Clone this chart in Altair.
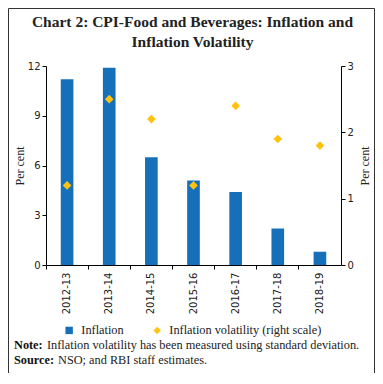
import altair as alt
import pandas as pd

years = ["2012-13", "2013-14", "2014-15", "2015-16", "2016-17", "2017-18", "2018-19"]
inflation = [11.2, 11.9, 6.5, 5.1, 4.4, 2.2, 0.8]
volatility = [1.2, 2.5, 2.2, 1.2, 2.4, 1.9, 1.8]
series_names = ["Inflation", "Inflation volatility (right scale)"]
series_colors = ["#1570B9", "#FFC20E"]
series_shapes = ["square", "diamond"]
left_ticks = [0, 3, 6, 9, 12]
right_ticks = [0, 1, 2, 3]
title_lines = ["Chart 2: CPI-Food and Beverages: Inflation and", "Inflation Volatility"]
note_lines = [
    ("Note:", "Inflation volatility has been measured using standard deviation."),
    ("Source:", "NSO; and RBI staff estimates."),
]

df = pd.DataFrame({"year": years, "inflation": inflation, "volatility": volatility})

SERIF = "Liberation Serif"
SANS = "DejaVu Sans"

color_scale = alt.Scale(domain=series_names, range=series_colors)
shape_scale = alt.Scale(domain=series_names, range=series_shapes)


def make_legend():
    return alt.Legend(
        title=None,
        orient="none",
        legendX=17,
        legendY=258,
        direction="horizontal",
        labelFont=SERIF,
        labelFontSize=12.3,
        labelColor="#222",
        symbolSize=55,
        symbolStrokeWidth=0,
        columnPadding=27,
        labelOffset=6,
        padding=0,
    )


x_enc = alt.X(
    "year:N",
    sort=years,
    title=None,
    scale=alt.Scale(paddingInner=0, paddingOuter=0),
    axis=alt.Axis(
        labelAngle=-90,
        labelFont=SANS,
        labelFontSize=10,
        labelColor="#222",
        domainColor="#000",
        tickColor="#000",
        tickSize=4,
        bandPosition=0,
        labelPadding=3,
    ),
)

bars = alt.Chart(df).transform_calculate(series="'Inflation'").mark_bar(
    width=alt.RelativeBandSize(0.3)
).encode(
    x=x_enc,
    y=alt.Y(
        "inflation:Q",
        scale=alt.Scale(domain=[0, 12], nice=False),
        axis=alt.Axis(
            values=left_ticks,
            title="Per cent",
            titleFont=SERIF,
            titleFontSize=12,
            titleFontWeight="normal",
            titleColor="#222",
            titlePadding=1,
            labelFont=SANS,
            labelFontSize=10,
            labelColor="#222",
            domainColor="#000",
            tickColor="#000",
            tickSize=4,
            labelPadding=2,
            grid=False,
        ),
    ),
    color=alt.Color("series:N", scale=color_scale, legend=make_legend()),
)

points = alt.Chart(df).transform_calculate(
    series="'Inflation volatility (right scale)'"
).mark_point(filled=True, size=75, opacity=1).encode(
    x=alt.X("year:N", sort=years),
    y=alt.Y(
        "volatility:Q",
        scale=alt.Scale(domain=[0, 3], nice=False),
        axis=alt.Axis(
            orient="right",
            values=right_ticks,
            title="Per cent",
            titleAngle=270,
            titleFont=SERIF,
            titleFontSize=12,
            titleFontWeight="normal",
            titleColor="#222",
            titlePadding=18,
            labelFont=SANS,
            labelFontSize=10,
            labelColor="#222",
            domainColor="#000",
            tickColor="#000",
            tickSize=4,
            labelPadding=2,
            grid=False,
        ),
    ),
    color=alt.Color("series:N", scale=color_scale, legend=make_legend()),
    shape=alt.Shape("series:N", scale=shape_scale, legend=make_legend()),
)

one = alt.Data(values=[{"a": 1}])

border = alt.Chart(one).mark_rect(fill=None, stroke="#333", strokeWidth=1).encode(
    x=alt.value(-37.5), x2=alt.value(328.5), y=alt.value(-57.5), y2=alt.value(307.5)
)

title_layers = [
    alt.Chart(one).mark_text(
        text=line, font=SERIF, fontSize=15.5, fontWeight="bold", align="center",
        baseline="middle", color="#222"
    ).encode(x=alt.value(146.5), y=alt.value(-44.5 + 20 * i))
    for i, line in enumerate(title_lines)
]

note_layers = []
for i, (lab, txt) in enumerate(note_lines):
    yv = 279 + i * 15
    note_layers.append(
        alt.Chart(one).mark_text(
            text=lab, font=SERIF, fontSize=12.3, fontWeight="bold", align="left",
            baseline="middle", color="#111"
        ).encode(x=alt.value(-32), y=alt.value(yv))
    )
    note_layers.append(
        alt.Chart(one).mark_text(
            text=txt, font=SERIF, fontSize=12.3, align="left", baseline="middle", color="#222"
        ).encode(x=alt.value(1 if i == 0 else 12), y=alt.value(yv))
    )

chart = alt.layer(bars, points, border, *title_layers, *note_layers).resolve_scale(
    y="independent"
).properties(
    width=295,
    height=199,
    padding={"left": 38, "top": 58, "right": 34, "bottom": 108},
    autosize=alt.AutoSizeParams(type="none"),
).configure_view(stroke=None)

chart.save("out.html", embed_options={"renderer": "svg", "actions": False})
